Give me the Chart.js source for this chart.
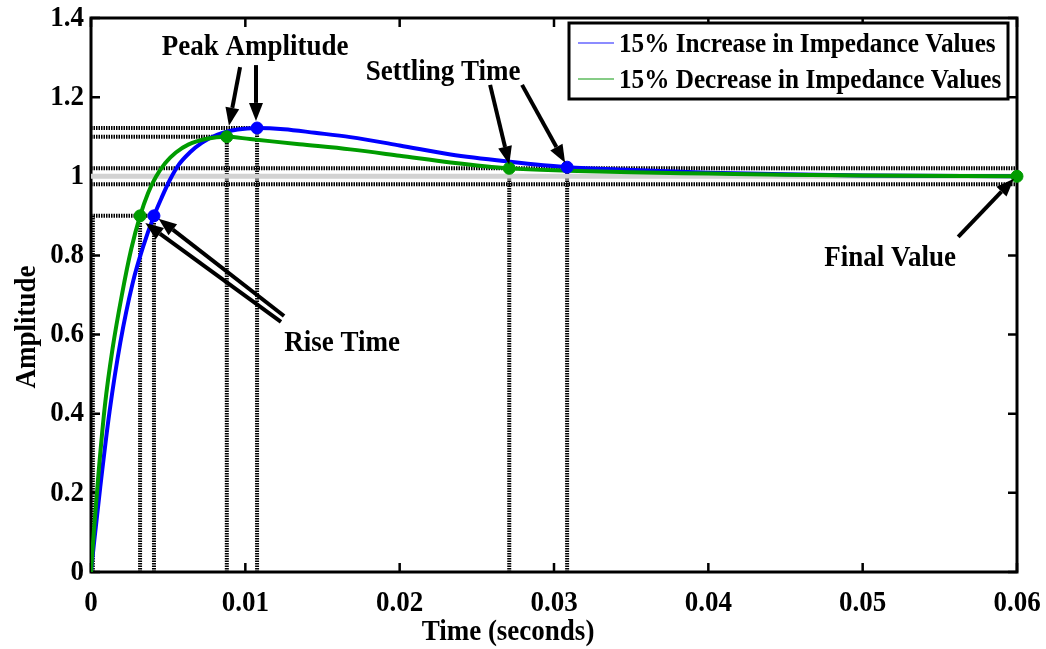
<html lang="en">
<head>
<meta charset="UTF-8">
<title>Step response</title>
<script src="https://cdn.jsdelivr.net/npm/chart.js"></script>
<style>
  body { margin: 0; background: #fff; }
</style>
</head>
<body>
<canvas id="myChart" width="1046" height="649"></canvas>
<script>
// step response, +15% impedance
const tInc = [0, 0.0002, 0.0006, 0.0012, 0.0019, 0.0027, 0.0034, 0.00408, 0.0046, 0.0051, 0.0057, 0.0064, 0.0072, 0.0082, 0.0095, 0.01076, 0.0125, 0.0145, 0.0168, 0.020, 0.0233, 0.0271, 0.03085, 0.035, 0.040, 0.045, 0.050, 0.060];
const yInc = [0, 0.075, 0.215, 0.405, 0.58, 0.73, 0.825, 0.90, 0.948, 0.99, 1.03, 1.06, 1.085, 1.105, 1.118, 1.122, 1.119, 1.110, 1.099, 1.078, 1.055, 1.037, 1.023, 1.016, 1.009, 1.005, 1.002, 1.000];
// step response, -15% impedance
const tDec = [0, 0.0002, 0.0005, 0.0009, 0.0014, 0.0020, 0.0026, 0.00318, 0.0037, 0.0042, 0.0048, 0.0055, 0.0063, 0.0075, 0.0088, 0.0103, 0.0135, 0.0168, 0.020, 0.0233, 0.0271, 0.03085, 0.035, 0.040, 0.045, 0.050, 0.060];
const yDec = [0, 0.11, 0.255, 0.42, 0.565, 0.70, 0.815, 0.90, 0.958, 0.998, 1.033, 1.060, 1.080, 1.095, 1.100, 1.094, 1.081, 1.068, 1.052, 1.035, 1.020, 1.014, 1.010, 1.007, 1.004, 1.002, 1.000];

// characteristic points: rise, peak, settling, final
const mkIncT = [0.00408, 0.01076, 0.03085];
const mkIncY = [0.90, 1.122, 1.023];
const mkDecT = [0.00318, 0.0088, 0.0271, 0.060];
const mkDecY = [0.90, 1.100, 1.020, 1.000];

const xTicks = [0, 0.01, 0.02, 0.03, 0.04, 0.05, 0.06];
const xTickLabels = ['0', '0.01', '0.02', '0.03', '0.04', '0.05', '0.06'];
const yTicks = [0, 0.2, 0.4, 0.6, 0.8, 1, 1.2, 1.4];
const yTickLabels = ['0', '0.2', '0.4', '0.6', '0.8', '1', '1.2', '1.4'];

const seriesNames = ['15% Increase in Impedance Values', '15% Decrease in Impedance Values'];

const blue = '#0000ff';
const green = '#009c00';

const pts = (xs, ys) => xs.map((x, i) => ({ x: x, y: ys[i] }));

// dotted guide lines
function guide(data) {
  return {
    data: data, showLine: true, pointRadius: 0, borderColor: '#000',
    borderWidth: 4, borderDash: [1.5, 1], order: 10, fill: false
  };
}
const guides = [
  guide([{ x: 0, y: 1.02 }, { x: 0.06, y: 1.02 }]),
  guide([{ x: 0, y: 0.98 }, { x: 0.06, y: 0.98 }]),
  guide([{ x: 0, y: mkIncY[1] }, { x: mkIncT[1], y: mkIncY[1] }]),
  guide([{ x: 0, y: mkDecY[1] }, { x: mkDecT[1], y: mkDecY[1] }]),
  guide([{ x: 0, y: 0.9 }, { x: mkIncT[0], y: 0.9 }]),
  guide([{ x: 0.00012, y: 0 }, { x: 0.00012, y: 0.9 }])
];
for (let i = 0; i < 3; i++) {
  guides.push(guide([{ x: mkIncT[i], y: 0 }, { x: mkIncT[i], y: mkIncY[i] }]));
  guides.push(guide([{ x: mkDecT[i], y: 0 }, { x: mkDecT[i], y: mkDecY[i] }]));
}

// annotation text and arrows, in data units
const notes = [
  { text: 'Peak Amplitude', x: 0.01063, y: 1.327 },
  { text: 'Settling Time', x: 0.02281, y: 1.264 },
  { text: 'Rise Time', x: 0.01627, y: 0.579 },
  { text: 'Final Value', x: 0.05178, y: 0.794 }
];
const arrows = [
  [0.00966, 1.276, 0.00894, 1.128],
  [0.01069, 1.281, 0.01069, 1.140],
  [0.02586, 1.231, 0.02710, 1.030],
  [0.02793, 1.231, 0.03072, 1.034],
  [0.01231, 0.632, 0.00352, 0.882],
  [0.01251, 0.647, 0.00438, 0.893],
  [0.05619, 0.847, 0.05980, 0.994]
];

function label(ctx, text, x, y, size, align, rot) {
  ctx.save();
  ctx.translate(x, y);
  if (rot) ctx.rotate(rot);
  ctx.scale(0.9, 1);
  ctx.font = 'bold ' + size + 'px "Liberation Serif"';
  ctx.fillStyle = '#000';
  ctx.textAlign = align;
  ctx.textBaseline = 'middle';
  ctx.fillText(text, 0, 0);
  ctx.restore();
}

function arrow(ctx, x1, y1, x2, y2) {
  const a = Math.atan2(y2 - y1, x2 - x1);
  const len = 18, w = 7;
  const bx = x2 - len * Math.cos(a), by = y2 - len * Math.sin(a);
  ctx.beginPath();
  ctx.moveTo(x1, y1);
  ctx.lineTo(bx, by);
  ctx.stroke();
  ctx.beginPath();
  ctx.moveTo(x2, y2);
  ctx.lineTo(bx + w * Math.sin(a), by - w * Math.cos(a));
  ctx.lineTo(bx - w * Math.sin(a), by + w * Math.cos(a));
  ctx.closePath();
  ctx.fill();
}

const frame = {
  id: 'frame',
  beforeDatasetsDraw(chart) {
    const { ctx, chartArea: a, scales } = chart;
    const sx = scales.x, sy = scales.y;
    ctx.save();
    ctx.strokeStyle = '#000';
    ctx.lineWidth = 3;
    ctx.strokeRect(a.left, a.top, a.right - a.left, a.bottom - a.top);

    // inward ticks on all four sides
    ctx.lineWidth = 2.5;
    ctx.beginPath();
    xTicks.forEach(v => {
      const px = sx.getPixelForValue(v);
      ctx.moveTo(px, a.bottom); ctx.lineTo(px, a.bottom - 9);
      ctx.moveTo(px, a.top); ctx.lineTo(px, a.top + 9);
    });
    yTicks.forEach(v => {
      const py = sy.getPixelForValue(v);
      ctx.moveTo(a.left, py); ctx.lineTo(a.left + 9, py);
      ctx.moveTo(a.right, py); ctx.lineTo(a.right - 9, py);
    });
    ctx.stroke();

    xTicks.forEach((v, i) => label(ctx, xTickLabels[i], sx.getPixelForValue(v), a.bottom + 31, 30, 'center'));
    yTicks.forEach((v, i) => label(ctx, yTickLabels[i], a.left - 7, sy.getPixelForValue(v), 30, 'right'));

    label(ctx, 'Time (seconds)', (a.left + a.right) / 2 - 46, 632, 30, 'center');
    label(ctx, 'Amplitude', 27, 327, 30, 'center', -Math.PI / 2);
    ctx.restore();
  },
  afterDatasetsDraw(chart) {
    const { ctx, scales } = chart;
    const sx = scales.x, sy = scales.y;
    ctx.save();
    ctx.strokeStyle = '#000';
    ctx.fillStyle = '#000';

    notes.forEach(n => label(ctx, n.text, sx.getPixelForValue(n.x), sy.getPixelForValue(n.y), 30, 'center'));
    ctx.lineWidth = 4;
    arrows.forEach(r => arrow(ctx, sx.getPixelForValue(r[0]), sy.getPixelForValue(r[1]),
                                  sx.getPixelForValue(r[2]), sy.getPixelForValue(r[3])));

    // legend
    const lx = 569, ly = 23, lw = 439, lh = 76;
    ctx.fillStyle = '#fff';
    ctx.fillRect(lx, ly, lw, lh);
    ctx.lineWidth = 3;
    ctx.strokeRect(lx, ly, lw, lh);
    const legendColors = ['#8c8cff', '#86cc86'];
    seriesNames.forEach((name, i) => {
      const yy = ly + 20 + i * 36;
      ctx.strokeStyle = legendColors[i];
      ctx.lineWidth = 2;
      ctx.beginPath();
      ctx.moveTo(lx + 9, yy); ctx.lineTo(lx + 45, yy);
      ctx.stroke();
      label(ctx, name, lx + 50, yy + 2, 28, 'left');
    });
    ctx.restore();
  }
};

new Chart(document.getElementById('myChart'), {
  type: 'scatter',
  data: {
    datasets: [
      ...guides,
      { data: [{ x: 0, y: 1 }, { x: 0.06, y: 1 }], showLine: true, pointRadius: 0,
        borderColor: '#d2d2d2', borderWidth: 5, order: 9 },
      { label: seriesNames[0], data: pts(tInc, yInc), showLine: true, pointRadius: 0,
        borderColor: blue, borderWidth: 4, cubicInterpolationMode: 'monotone', order: 4 },
      { label: seriesNames[1], data: pts(tDec, yDec), showLine: true, pointRadius: 0,
        borderColor: green, borderWidth: 4, cubicInterpolationMode: 'monotone', order: 3 },
      { data: pts(mkIncT, mkIncY), pointRadius: 6, pointBackgroundColor: blue,
        pointBorderColor: blue, order: 2, clip: false },
      { data: pts(mkDecT, mkDecY), pointRadius: 6, pointBackgroundColor: green,
        pointBorderColor: green, order: 1, clip: false }
    ]
  },
  options: {
    responsive: false,
    animation: false,
    layout: { padding: { left: 91, right: 29, top: 18, bottom: 77 } },
    plugins: { legend: { display: false }, tooltip: { enabled: false } },
    scales: {
      x: { type: 'linear', display: false, min: 0, max: 0.06 },
      y: { type: 'linear', display: false, min: 0, max: 1.4 }
    }
  },
  plugins: [frame]
});
</script>
</body>
</html>
